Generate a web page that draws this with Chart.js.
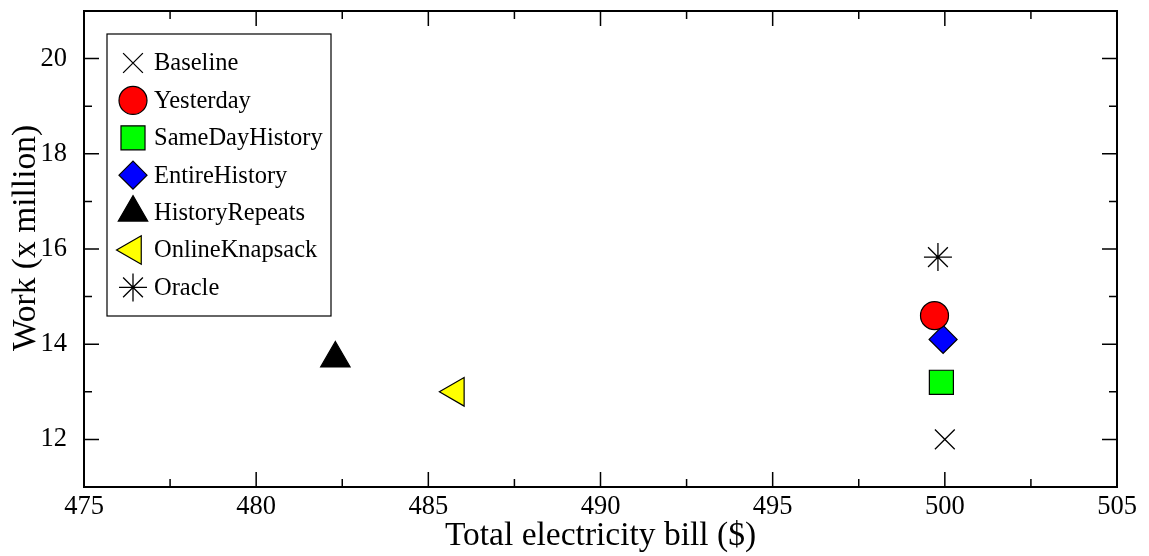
<!DOCTYPE html>
<html>
<head>
<meta charset="utf-8">
<script src="https://cdn.jsdelivr.net/npm/chart.js@4/dist/chart.umd.min.js"></script>
<style>
  html, body { margin: 0; padding: 0; background: #fff; }
  #wrap { width: 1149px; height: 556px; }
</style>
</head>
<body>
<div id="wrap"><canvas id="scatter-chart"></canvas></div>
<script>
// data
const seriesNames = ["Baseline", "Yesterday", "SameDayHistory", "EntireHistory", "HistoryRepeats", "OnlineKnapsack", "Oracle"];
const billValues = [500.0, 499.7, 499.9, 499.95, 482.3, 485.8, 499.8];
const workValues = [12.0, 14.6, 13.2, 14.1, 13.7, 13.0, 15.83];
const xTicks = [475, 480, 485, 490, 495, 500, 505];
const yTicks = [12, 14, 16, 18, 20];
const yTitle = "Work (x million)";

// marker look per series
const markers = [
    { style: "crossRot", radius: 14, fill: "#000000", rotation: 0 },
    { style: "circle", radius: 14, fill: "#ff0000", rotation: 0 },
    { style: "rect", radius: 17, fill: "#00ff00", rotation: 0 },
    { style: "rectRot", radius: 14, fill: "#0000ff", rotation: 0 },
    { style: "triangle", radius: 17, fill: "#000000", rotation: 0 },
    { style: "triangle", radius: 16.5, fill: "#ffff00", rotation: -90 },
    { style: "star", radius: 14, fill: "#000000", rotation: 0 }
];

const serif = "'Liberation Serif', 'Times New Roman', serif";

// box round the plot with inward ticks on all four sides, plus the y title
const frameTicks = {
    id: "frameTicks",
    afterDatasetsDraw(chart) {
        const ctx = chart.ctx;
        const a = chart.chartArea;
        const x = chart.scales.x, y = chart.scales.y;
        ctx.save();
        ctx.strokeStyle = "#000";
        ctx.lineWidth = 1.5;
        ctx.beginPath();
        xTicks.forEach((v, i) => {
            let px = x.getPixelForValue(v);
            ctx.moveTo(px, a.bottom); ctx.lineTo(px, a.bottom - 15);
            ctx.moveTo(px, a.top); ctx.lineTo(px, a.top + 15);
            if (i < xTicks.length - 1) {
                let mx = x.getPixelForValue((v + xTicks[i + 1]) / 2);
                ctx.moveTo(mx, a.bottom); ctx.lineTo(mx, a.bottom - 8);
                ctx.moveTo(mx, a.top); ctx.lineTo(mx, a.top + 8);
            }
        });
        for (let v = y.min; v <= y.max; v++) {
            let py = y.getPixelForValue(v);
            let len = yTicks.includes(v) ? 15 : 8;
            ctx.moveTo(a.left, py); ctx.lineTo(a.left + len, py);
            ctx.moveTo(a.right, py); ctx.lineTo(a.right - len, py);
        }
        ctx.stroke();
        ctx.lineWidth = 2;
        ctx.strokeRect(a.left, a.top, a.right - a.left, a.bottom - a.top);

        // y title sits a little above the middle in the original
        ctx.translate(26, (a.top + a.bottom) / 2 - 11);
        ctx.rotate(-Math.PI / 2);
        ctx.fillStyle = "#000";
        ctx.font = "33.5px " + serif;
        ctx.textAlign = "center";
        ctx.textBaseline = "middle";
        ctx.fillText(yTitle, 0, 0);
        ctx.restore();
    }
};

// legend box inside the plot, top left
const boxLegend = {
    id: "boxLegend",
    afterDraw(chart) {
        const ctx = chart.ctx;
        const a = chart.chartArea;
        const bx = a.left + 23, by = a.top + 23;
        ctx.save();
        ctx.fillStyle = "#fff";
        ctx.fillRect(bx, by, 224, 282);
        ctx.strokeStyle = "#000";
        ctx.lineWidth = 1.2;
        ctx.strokeRect(bx, by, 224, 282);
        chart.data.datasets.forEach((ds, i) => {
            const m = markers[i];
            const cy = by + 29 + i * 37.4;
            const cx = bx + 26;
            ctx.fillStyle = m.fill;
            ctx.strokeStyle = "#000";
            ctx.lineWidth = (m.style === "crossRot" || m.style === "star") ? 1.3 : 1.2;
            Chart.helpers.drawPoint(ctx, {
                pointStyle: m.style, radius: m.radius, rotation: m.rotation, borderWidth: ctx.lineWidth
            }, cx, cy);
            ctx.fillStyle = "#000";
            ctx.font = "24.5px " + serif;
            ctx.textBaseline = "middle";
            ctx.textAlign = "left";
            ctx.fillText(ds.label, bx + 47, cy + 1);
        });
        ctx.restore();
    }
};

const datasets = seriesNames.map((name, i) => ({
    label: name,
    data: [{ x: billValues[i], y: workValues[i] }],
    pointStyle: markers[i].style,
    pointRadius: markers[i].radius,
    pointHoverRadius: markers[i].radius,
    pointRotation: markers[i].rotation,
    backgroundColor: markers[i].fill,
    borderColor: "#000",
    borderWidth: (markers[i].style === "crossRot" || markers[i].style === "star") ? 1.3 : 1.2
}));

new Chart(document.getElementById("scatter-chart"), {
    type: "scatter",
    data: { datasets: datasets },
    options: {
        responsive: true,
        maintainAspectRatio: false,
        animation: false,
        layout: { autoPadding: false, padding: { top: 11, right: 32, left: 0, bottom: 0 } },
        plugins: {
            legend: { display: false },
            tooltip: { enabled: false }
        },
        scales: {
            x: {
                type: "linear",
                min: 475,
                max: 505,
                afterBuildTicks: s => { s.ticks = xTicks.map(v => ({ value: v })); },
                afterFit: s => { s.height = 69; s.paddingLeft = 0; s.paddingRight = 0; },
                grid: { display: false, drawTicks: false },
                border: { display: false },
                ticks: { color: "#000", padding: 4, font: { family: serif, size: 26.5 } },
                title: {
                    display: true,
                    text: "Total electricity bill ($)",
                    color: "#000",
                    font: { family: serif, size: 33.5 },
                    padding: { top: 0, bottom: 0 }
                }
            },
            y: {
                type: "linear",
                min: 11,
                max: 21,
                afterBuildTicks: s => { s.ticks = yTicks.map(v => ({ value: v })); },
                afterFit: s => { s.width = 84; s.paddingTop = 0; s.paddingBottom = 0; },
                grid: { display: false, drawTicks: false },
                border: { display: false },
                ticks: { color: "#000", padding: 17, font: { family: serif, size: 26.5 } },
                title: { display: false }
            }
        }
    },
    plugins: [frameTicks, boxLegend]
});
</script>
</body>
</html>
